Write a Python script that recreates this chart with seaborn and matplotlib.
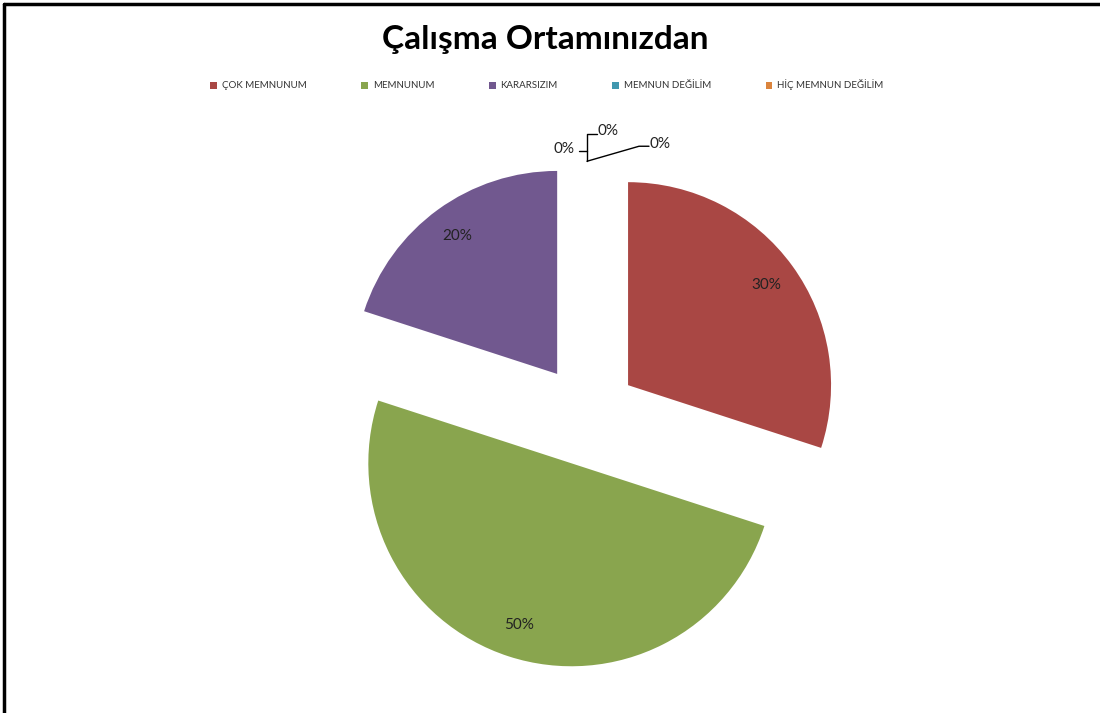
import matplotlib
matplotlib.use("Agg")
import matplotlib.pyplot as plt
import seaborn as sns
import numpy as np
from matplotlib.lines import Line2D

sns.set_theme(style="white")
plt.rcParams['font.family'] = ['Lato', 'DejaVu Sans']

# ---- data ----
categories = ["ÇOK MEMNUNUM", "MEMNUNUM", "KARARSIZIM", "MEMNUN DEĞİLİM", "HİÇ MEMNUN DEĞİLİM", ""]
values = [30, 50, 20, 0, 0, 0]
colors = ["#A94744", "#89A54E", "#71588F", "#4198AF", "#DB843D", "#93A9CF"]
title = "Çalışma Ortamınızdan"

W, H = 1100, 713
fig = plt.figure(figsize=(W / 100, H / 100), dpi=100)
ax = fig.add_axes([0, 0, 1, 1])

cx, cy, R = 587, H - 415, 203
explode_frac = 0.25
wedges, texts, autotexts = ax.pie(
    values, colors=colors, startangle=90, counterclock=False,
    explode=[explode_frac * R] * len(values), radius=R, center=(cx, cy),
    autopct=lambda p: f"{p:.0f}%", pctdistance=0.84,
    textprops=dict(fontsize=11, color="#222222"),
    wedgeprops=dict(linewidth=0), frame=True)

# hide autopct texts of zero slices, draw them with leader lines instead
zi = 0
for w, t, v in zip(wedges, autotexts, values):
    if v == 0:
        t.set_visible(False)
        ang = np.deg2rad(w.theta1)
        tip = (w.center[0] + R * np.cos(ang), w.center[1] + R * np.sin(ang))
        if zi == 0:
            ax.plot([tip[0] - 8, tip[0]], [tip[1] + 10, tip[1] + 10], color="black", lw=1)
            ax.text(tip[0] - 12, tip[1] + 12, "0%", fontsize=11, color="#222222",
                    ha="right", va="center")
        elif zi == 1:
            ax.plot([tip[0], tip[0], tip[0] + 10], [tip[1], tip[1] + 27, tip[1] + 27],
                    color="black", lw=1)
            ax.text(tip[0] + 11, tip[1] + 30, "0%", fontsize=11, color="#222222",
                    ha="left", va="center")
        else:
            ax.plot([tip[0], tip[0] + 52, tip[0] + 62], [tip[1], tip[1] + 15, tip[1] + 15],
                    color="black", lw=1)
            ax.text(tip[0] + 63, tip[1] + 17, "0%", fontsize=11, color="#222222",
                    ha="left", va="center")
        zi += 1

ax.set_xlim(0, W)
ax.set_ylim(0, H)
ax.set_aspect("equal")
ax.axis("off")

fig.text(545 / W, 1 - 39 / H, title, ha="center", va="center",
         fontsize=24, fontweight="bold", color="black")

handles = wedges[:5]
leg = fig.legend(handles, categories[:5], loc="center", bbox_to_anchor=(547 / W, 1 - 85 / H),
                 ncol=5, frameon=False, fontsize=7, handlelength=0.7, handleheight=0.7,
                 columnspacing=5.6, handletextpad=0.5, labelcolor="#333333")

# border (top and left edges)
fig.add_artist(Line2D([4 / W, 1], [1 - 4 / H, 1 - 4 / H], color="black", lw=2.5,
                      transform=fig.transFigure))
fig.add_artist(Line2D([4 / W, 4 / W], [0, 1 - 4 / H], color="black", lw=2.5,
                      transform=fig.transFigure))

fig.savefig("out.png", dpi=100, facecolor="white")
